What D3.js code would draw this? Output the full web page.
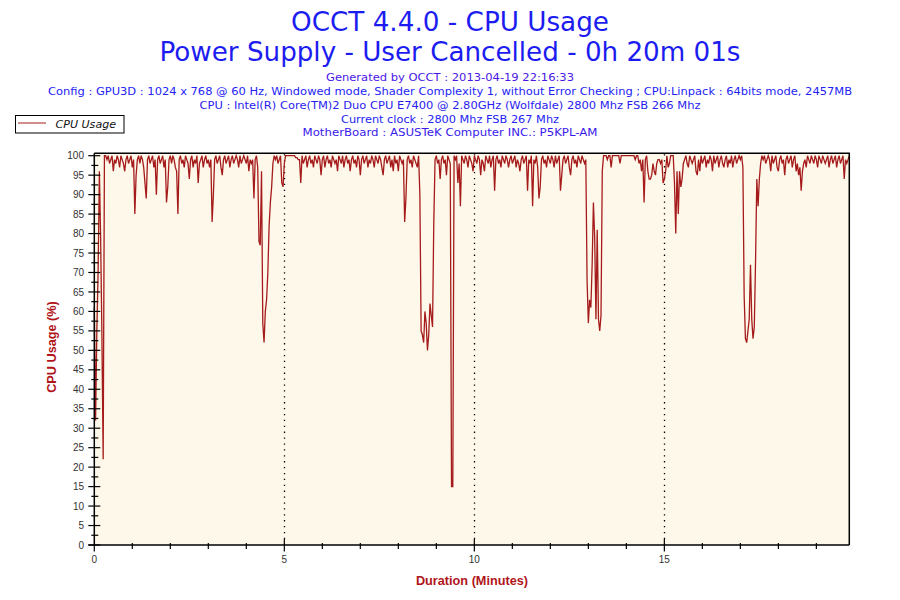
<!DOCTYPE html>
<html>
<head>
<meta charset="utf-8">
<script src="https://cdn.jsdelivr.net/npm/d3@7"></script>
<style>
  html, body { margin: 0; padding: 0; background: #ffffff; }
  svg { display: block; }
</style>
</head>
<body>
<svg id="chart" width="900" height="600"></svg>
<script>
// ---------------- DATA ----------------
const titleLines = ["OCCT 4.4.0 - CPU Usage", "Power Supply - User Cancelled - 0h 20m 01s"];
const infoLines = [
  "Generated by OCCT : 2013-04-19 22:16:33",
  "Config : GPU3D : 1024 x 768 @ 60 Hz, Windowed mode, Shader Complexity 1, without Error Checking ; CPU:Linpack : 64bits mode, 2457MB",
  "CPU : Intel(R) Core(TM)2 Duo CPU E7400 @ 2.80GHz (Wolfdale) 2800 Mhz FSB 266 Mhz",
  "Current clock : 2800 Mhz FSB 267 Mhz",
  "MotherBoard : ASUSTeK Computer INC.: P5KPL-AM"
];
const seriesName = "CPU Usage";
const xAxisTitle = "Duration (Minutes)";
const yAxisTitle = "CPU Usage (%)";
const sampleSeconds = 2;
const xMinorTicks = [0,1,2,3,4,5,6,7,8,9,10,11,12,13,14,15,16,17,18,19];
const xLabelTicks = [0, 5, 10, 15];
const xGridTicks = [5, 10, 15];
const yMajorTicks = [0,5,10,15,20,25,30,35,40,45,50,55,60,65,70,75,80,85,90,95,100];
const yMinorTicks = [2.5,7.5,12.5,17.5,22.5,27.5,32.5,37.5,42.5,47.5,52.5,57.5,62.5,67.5,72.5,77.5,82.5,87.5,92.5,97.5];

// CPU usage (%), one reading every 2 seconds
const cpuUsage = [
  61,32,55,70,96,79,54,22,100,
  100,99,100,98,99,100,96,99,98,100,99,97,100,99,98,96,99,100,98,99,100,97,
  99,85,95,
  99,100,98,100,99,97,
  93,89,99,
  100,98,99,100,97,99,
  90,
  99,100,98,99,100,97,99,
  88,92,
  99,100,98,100,99,97,
  96,85,99,
  100,98,99,97,100,99,98,
  94,99,
  100,97,99,98,100,
  93,98,
  99,100,97,99,100,98,99,97,
  99,83,90,
  99,100,98,99,100,97,
  95,99,
  100,98,99,100,97,99,100,98,99,100,99,97,100,98,99,100,99,98,
  100,96,99,98,99,89,99,100,97,
  78,77,96,57,52,60,63,70,82,88,92,98,100,
  99,100,98,99,100,93,92,98,100,
  100,100,100,100,100,100,100,99.5,99.5,99,
  99,93,
  100,98,99,100,97,99,100,98,99,97,
  100,99,98,100,99,95,99,100,97,99,
  100,98,99,97,100,99,98,99,96,100,
  99,98,100,97,99,100,98,99,96,99,
  100,98,99,97,100,99,95,99,100,98,
  99,100,97,99,98,100,99,97,100,99,
  98,100,99,97,95,99,100,98,99,100,
  97,99,96,100,98,99,96,100,99,98,
  99,83,89,
  99,100,98,99,97,100,99,98,97,100,
  90,
  55,54,52,60,57,50,54,62,59,56,83,99,
  100,98,99,94,99,100,98,
  99,95,100,99,98,
  15,15,100,
  99,100,
  93,98,87,100,
  99,98,100,99,97,100,99,98,96,
  100,99,98,100,
  99,95,
  99,98,96,100,
  99,98,100,97,99,100,
  91,99,
  100,98,99,97,100,99,98,100,99,97,99,100,98,99,100,97,99,98,
  96,99,
  100,98,99,100,
  91,99,98,
  100,87,99,
  98,100,97,
  89,92,99,
  100,98,99,97,100,99,98,100,99,97,100,98,99,100,
  91,95,99,
  100,98,99,100,97,
  95,99,
  100,98,99,97,100,99,98,100,99,98,99,
  68,57,63,61,72,88,79,58,81,58,55,59,96,100,
  100,100,99,100,100,97,100,100,100,100,
  100,100,98,100,100,100,100,100,100,100,
  100,100,100,100,99,100,100,98,99,
  96,99,88,99,100,
  96,94,94,95,98,96,95,98,99,99,98,99,93,
  94,96,100,97,98,
  100,100,100,93,80,96,85,96,92,94,98,
  99,100,98,97,100,99,98,99,100,96,
  95,99,96,100,98,99,100,97,99,98,
  100,99,96,100,98,99,100,97,99,100,
  98,97,99,100,97,99,98,100,97,99,
  100,98,99,100,99,100,
  97,64,53,52,55,58,72,58,53,56,73,94,87,94,98,100,
  99,100,98,99,100,99,96,100,98,99,
  100,97,96,99,100,98,99,95,99,100,
  98,99,100,97,99,100,96,98,95,97,
  91,96,98,99,97,100,99,98,100,99,
  98,100,99,97,100,99,98,100,99,98,
  99,100,97,99,100,98,99,100,97,99,
  100,98,99,100,94,99,98,99,100
];

// ---------------- LAYOUT ----------------
const plot = { left: 94.3, right: 849.3, top: 153.3, bottom: 545 };
const lineColor = "#a51b1b";
const titleColor = "#1c1cf0";
const axisTitleColor = "#b0151a";

const svg = d3.select("#chart");

const points = cpuUsage.map((v, i) => ({ t: i * sampleSeconds / 60, v: v }));
const x = d3.scaleLinear()
  .domain([0, (cpuUsage.length - 1) * sampleSeconds / 60])
  .range([plot.left, plot.right]);
const y = d3.scaleLinear().domain([0, 100]).range([plot.bottom, 155.7]);

function fit(sel, width) {
  sel.attr("textLength", width).attr("lengthAdjust", "spacingAndGlyphs");
}

// Titles
const titleBase = [31, 61];
const titleWidths = [318, 581];
titleLines.forEach((t, i) => {
  const el = svg.append("text")
    .attr("x", 450).attr("y", titleBase[i])
    .attr("text-anchor", "middle")
    .attr("font-family", "DejaVu Sans, Verdana, sans-serif")
    .attr("font-size", 27)
    .attr("fill", titleColor)
    .text(t);
  fit(el, titleWidths[i]);
});

// Info lines
const infoBase = [80.7, 94.7, 108.7, 122.7, 136.2];
const infoWidths = [248, 804, 501, 218, 295];
const infoColors = ["#4a16e6", "#2424f5", "#2a1cf0", "#2424f5", "#3a1aeb"];
infoLines.forEach((t, i) => {
  const el = svg.append("text")
    .attr("x", 450).attr("y", infoBase[i])
    .attr("text-anchor", "middle")
    .attr("font-family", "DejaVu Sans, Verdana, sans-serif")
    .attr("font-size", 11)
    .attr("fill", infoColors[i])
    .text(t);
  fit(el, infoWidths[i]);
});

// Legend
const lg = svg.append("g");
lg.append("rect")
  .attr("x", 15.5).attr("y", 115.5).attr("width", 108.5).attr("height", 17.5)
  .attr("fill", "#ffffff").attr("stroke", "#000").attr("stroke-width", 1);
lg.append("line")
  .attr("x1", 18).attr("x2", 46).attr("y1", 123).attr("y2", 123)
  .attr("stroke", lineColor).attr("stroke-width", 1);
const lgt = lg.append("text")
  .attr("x", 55.5).attr("y", 127.5)
  .attr("font-family", "DejaVu Sans, Verdana, sans-serif")
  .attr("font-style", "italic")
  .attr("font-size", 11)
  .attr("fill", "#111")
  .text(seriesName);
fit(lgt, 60.5);

// Plot background
svg.append("rect")
  .attr("x", plot.left).attr("y", plot.top)
  .attr("width", plot.right - plot.left).attr("height", plot.bottom - plot.top)
  .attr("fill", "#fef8ea");

// Vertical dotted grid
svg.append("g").selectAll("line").data(xGridTicks).join("line")
  .attr("x1", d => Math.round(x(d)) + 0.5).attr("x2", d => Math.round(x(d)) + 0.5)
  .attr("y1", plot.bottom).attr("y2", plot.top)
  .attr("stroke", "#000").attr("stroke-width", 1.3)
  .attr("stroke-dasharray", "1.3,4.6");

// Data line
const line = d3.line().x(d => x(d.t)).y(d => y(d.v));
svg.append("path")
  .datum(points)
  .attr("d", line)
  .attr("fill", "none")
  .attr("stroke", lineColor)
  .attr("stroke-width", 1.3)
  .attr("stroke-linejoin", "miter");

// Plot border (top and right)
svg.append("path")
  .attr("d", `M${plot.left},${plot.top}H${plot.right}V${plot.bottom}`)
  .attr("fill", "none").attr("stroke", "#000").attr("stroke-width", 1.5);

// Axis lines
svg.append("line")
  .attr("x1", plot.left).attr("x2", plot.left)
  .attr("y1", plot.top).attr("y2", plot.bottom)
  .attr("stroke", "#000").attr("stroke-width", 1.5);
svg.append("line")
  .attr("x1", plot.left - 6).attr("x2", plot.right)
  .attr("y1", plot.bottom).attr("y2", plot.bottom)
  .attr("stroke", "#000").attr("stroke-width", 1.5);

// Y ticks
svg.append("g").selectAll("line").data(yMajorTicks).join("line")
  .attr("x1", plot.left - 6).attr("x2", plot.left + 6)
  .attr("y1", d => y(d)).attr("y2", d => y(d))
  .attr("stroke", "#000").attr("stroke-width", 1.2);
svg.append("g").selectAll("line").data(yMinorTicks).join("line")
  .attr("x1", plot.left - 3).attr("x2", plot.left + 4)
  .attr("y1", d => y(d)).attr("y2", d => y(d))
  .attr("stroke", "#000").attr("stroke-width", 1.2);
svg.append("g").selectAll("text").data(yMajorTicks).join("text")
  .attr("x", 84).attr("y", d => y(d) + 3.6)
  .attr("text-anchor", "end")
  .attr("font-family", "Liberation Sans, Arial, sans-serif")
  .attr("font-size", 10)
  .attr("fill", "#333")
  .text(d => d);

// X ticks
svg.append("g").selectAll("line").data(xMinorTicks).join("line")
  .attr("x1", d => x(d)).attr("x2", d => x(d))
  .attr("y1", d => d % 5 === 0 && d !== 0 ? plot.bottom - 6 : plot.bottom - (d === 0 ? 0 : 2))
  .attr("y2", d => plot.bottom + (d % 5 === 0 ? 6.5 : 4))
  .attr("stroke", "#000").attr("stroke-width", 1.2);
svg.append("g").selectAll("text").data(xLabelTicks).join("text")
  .attr("x", d => x(d)).attr("y", 563.3)
  .attr("text-anchor", "middle")
  .attr("font-family", "Liberation Sans, Arial, sans-serif")
  .attr("font-size", 10)
  .attr("fill", "#333")
  .text(d => d);

// Axis titles
svg.append("text")
  .attr("x", 472).attr("y", 585)
  .attr("text-anchor", "middle")
  .attr("font-family", "Liberation Sans, Arial, sans-serif")
  .attr("font-weight", "bold")
  .attr("font-size", 12.7)
  .attr("fill", axisTitleColor)
  .text(xAxisTitle);
svg.append("text")
  .attr("transform", "translate(55.5,347) rotate(-90)")
  .attr("text-anchor", "middle")
  .attr("font-family", "Liberation Sans, Arial, sans-serif")
  .attr("font-weight", "bold")
  .attr("font-size", 12.7)
  .attr("fill", axisTitleColor)
  .text(yAxisTitle);
</script>
</body>
</html>
